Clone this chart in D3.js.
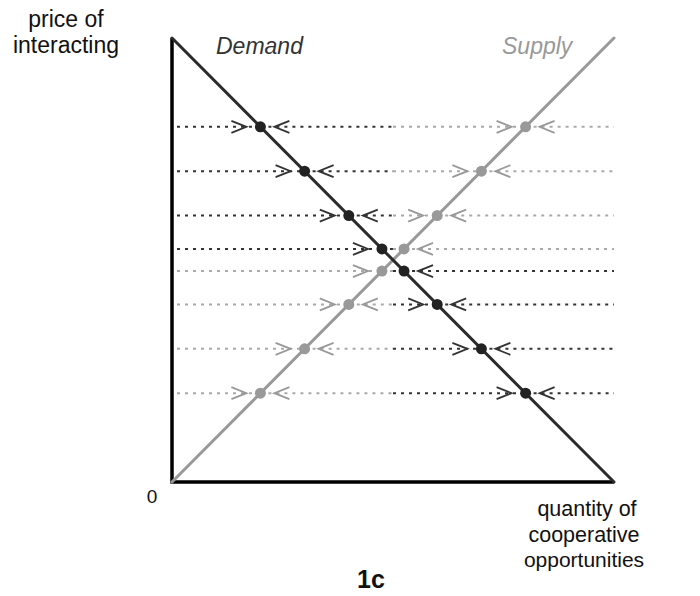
<!DOCTYPE html>
<html>
<head>
<meta charset="utf-8">
<script src="https://cdn.jsdelivr.net/npm/d3@7"></script>
<style>
  body { margin: 0; background: #fff; }
  svg text { font-family: Helvetica, Arial, "Liberation Sans", sans-serif; }
</style>
</head>
<body>
<div id="chart"></div>
<script>
// price levels of the dotted rows, and where each curve sits on that row
const prices = [8, 7, 6, 5.25, 4.75, 4, 3, 2];
const demandQty = [2, 3, 4, 4.75, 5.25, 6, 7, 8];
const supplyQty = [8, 7, 6, 5.25, 4.75, 4, 3, 2];
const demandLine = [[0, 10], [10, 0]];
const supplyLine = [[0, 0], [10, 10]];

const dark = { line: "#2b2b2b", dot: "#222", dash: "#333", arrow: "#333" };
const light = { line: "#999", dot: "#999", dash: "#aaa", arrow: "#999" };

const width = 700;
const height = 596;

const x = d3.scaleLinear().domain([0, 10]).range([172, 614]);
const y = d3.scaleLinear().domain([0, 10]).range([482, 38]);

const svg = d3
  .select("#chart")
  .append("svg")
  .attr("width", width)
  .attr("height", height);

const line = d3.line().x((d) => x(d[0])).y((d) => y(d[1]));

// build the row segments: outer + inner pieces coloured by nearest dot
const rows = prices.map((p, i) => {
  const d = { q: demandQty[i], c: dark };
  const s = { q: supplyQty[i], c: light };
  const [L, R] = d.q < s.q ? [d, s] : [s, d];
  return { p, L, R };
});

const guides = svg.append("g");
const arrows = svg.append("g");
const tip = 14;

function chevron(tx, ty, dir) {
  return `M${tx - dir * 15},${ty - 6}L${tx},${ty}L${tx - dir * 15},${ty + 6}`;
}

rows.forEach((r) => {
  const yy = y(r.p);
  const xl = x(r.L.q);
  const xr = x(r.R.q);
  const mid = (xl + xr) / 2;
  const segs = [
    [x(0) + 5, xl, r.L.c],
    [xl, mid, r.L.c],
    [mid, xr, r.R.c],
    [xr, x(10), r.R.c],
  ];
  guides
    .selectAll(null)
    .data(segs)
    .join("line")
    .attr("x1", (d) => d[0])
    .attr("x2", (d) => d[1])
    .attr("y1", yy)
    .attr("y2", yy)
    .attr("stroke", (d) => d[2].dash)
    .attr("stroke-width", 2)
    .attr("stroke-dasharray", "3,5");

  const heads = [
    [xl - tip, 1, r.L.c],
    [xr + tip, -1, r.R.c],
  ];
  if (xr - xl > 60) {
    heads.push([xl + tip, -1, r.L.c]);
    heads.push([xr - tip, 1, r.R.c]);
  }
  arrows
    .selectAll(null)
    .data(heads)
    .join("path")
    .attr("d", (d) => chevron(d[0], yy, d[1]))
    .attr("fill", "none")
    .attr("stroke", (d) => d[2].arrow)
    .attr("stroke-width", 1.8);
});

// axes
svg
  .append("path")
  .attr("d", `M${x(0)},${y(10)}L${x(0)},${y(0)}L${x(10)},${y(0)}`)
  .attr("fill", "none")
  .attr("stroke", "#000")
  .attr("stroke-width", 3.5);

svg
  .append("path")
  .attr("d", line(supplyLine))
  .attr("stroke", light.line)
  .attr("stroke-width", 3)
  .attr("stroke-linecap", "round");

svg
  .append("path")
  .attr("d", line(demandLine))
  .attr("stroke", dark.line)
  .attr("stroke-width", 3)
  .attr("stroke-linecap", "round");

// dots
const dots = svg.append("g");
rows.forEach((r) => {
  dots
    .selectAll(null)
    .data([r.L, r.R])
    .join("circle")
    .attr("cx", (d) => x(d.q))
    .attr("cy", y(r.p))
    .attr("r", 5.5)
    .attr("fill", (d) => d.c.dot);
});

// labels
const txt = (t, px, py, size, opts = {}) =>
  svg
    .append("text")
    .attr("x", px)
    .attr("y", py)
    .attr("font-size", size)
    .attr("text-anchor", opts.anchor || "middle")
    .attr("font-style", opts.style || "normal")
    .attr("font-weight", opts.weight || "normal")
    .attr("fill", opts.fill || "#111")
    .text(t);

txt("price of", 66, 27, 23);
txt("interacting", 66, 53, 23);
txt("Demand", 216, 54, 23, { anchor: "start", style: "italic", fill: "#333" });
txt("Supply", 502, 54, 23, { anchor: "start", style: "italic", fill: "#999" });
txt("0", 152, 503, 19);
txt("quantity of", 587, 516, 21.5);
txt("cooperative", 584, 542, 21.5);
txt("opportunities", 584, 567, 21);
txt("1c", 371, 588, 25, { weight: "bold" });
</script>
</body>
</html>
